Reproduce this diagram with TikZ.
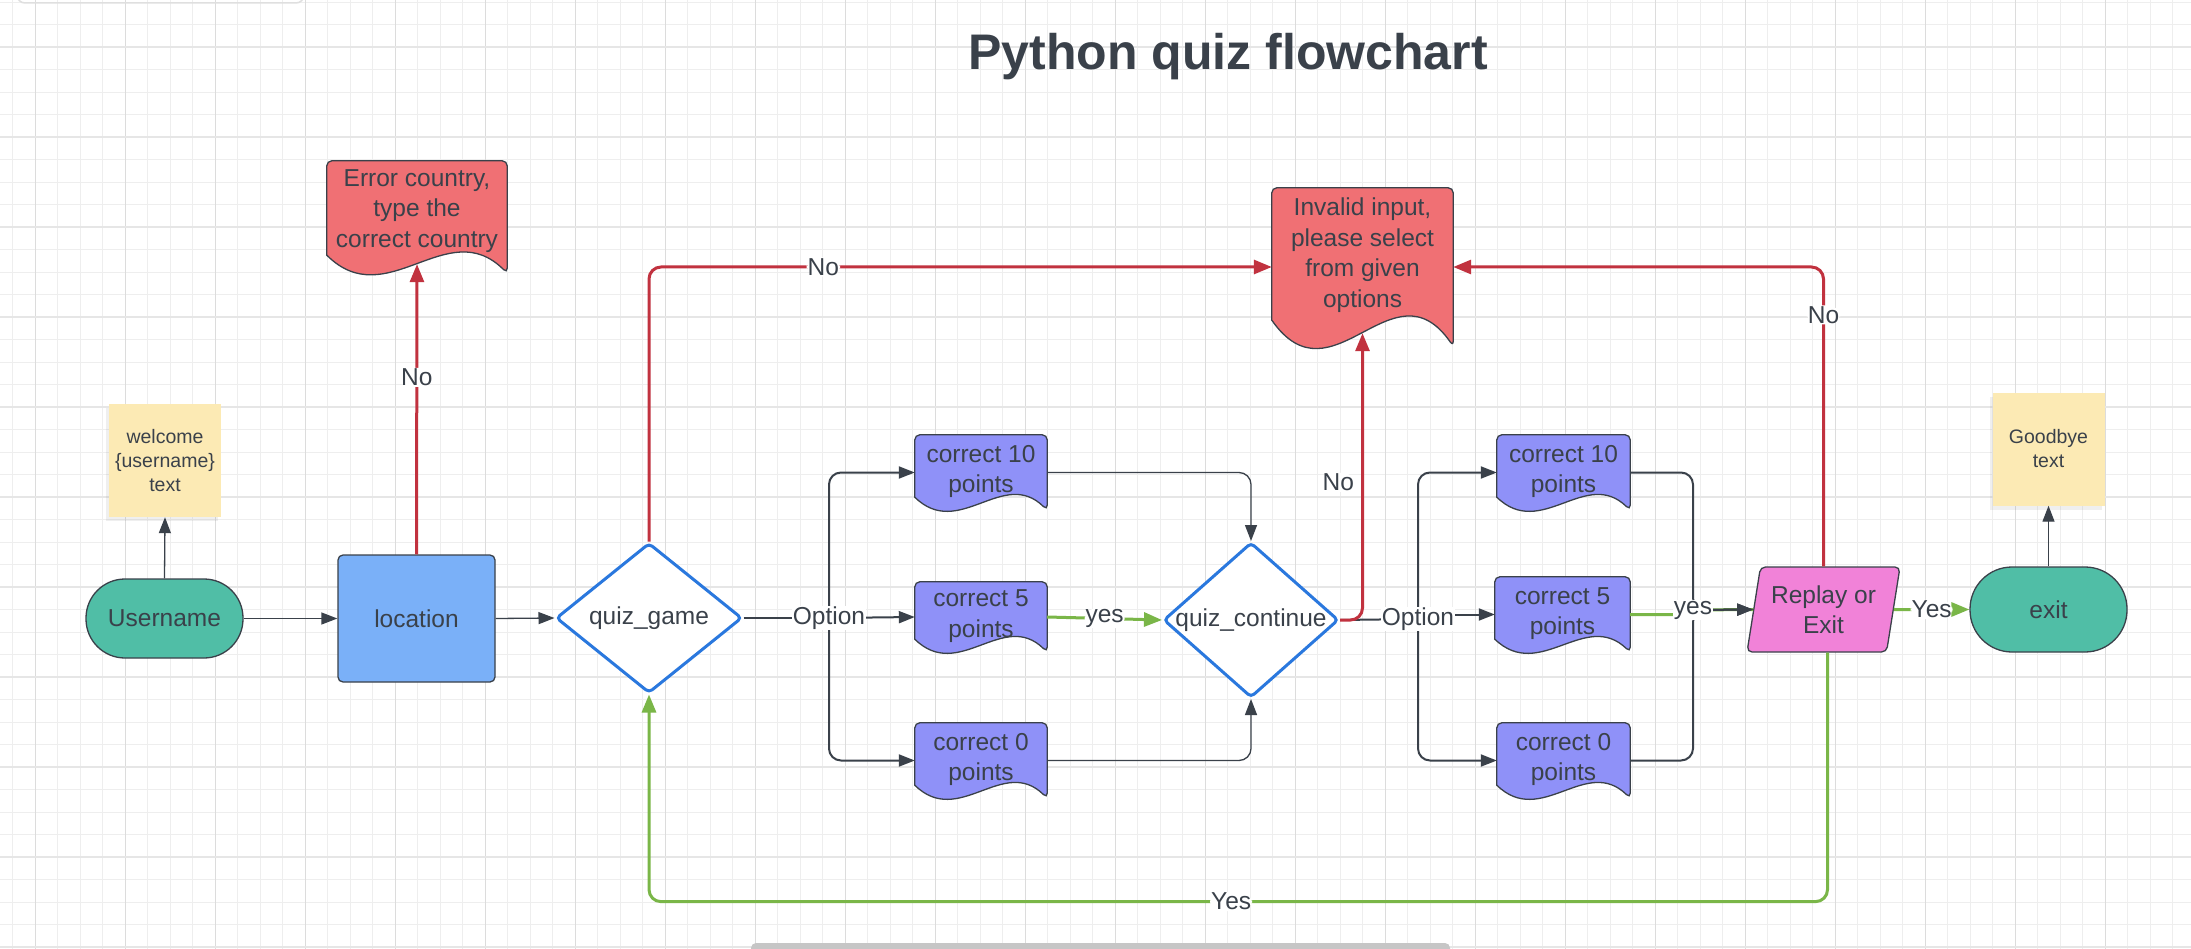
\documentclass[tikz,border=0pt]{standalone}
\usepackage{fontspec}
\setmainfont{Liberation Sans}
\usepackage{tikz}
\usetikzlibrary{arrows.meta, calc, backgrounds, shapes.geometric, shadows}

\definecolor{txtgrey}{HTML}{3A414A}
\definecolor{gridminor}{HTML}{EEEEEE}
\definecolor{gridmajorv}{HTML}{DCDCDC}
\definecolor{gridmajorh}{HTML}{E6E6E6}
\definecolor{tealfill}{HTML}{50BEA6}
\definecolor{bluefill}{HTML}{7AB0F8}
\definecolor{redfill}{HTML}{F07074}
\definecolor{purplefill}{HTML}{8F91F8}
\definecolor{pinkfill}{HTML}{F182D8}
\definecolor{notefill}{HTML}{FCEAB4}
\definecolor{noline}{HTML}{C1323F}
\definecolor{yesline}{HTML}{7AB648}
\definecolor{diamondblue}{HTML}{2A78DE}

% outline of a document shape (wavy bottom) round a named node
\newcommand{\DocOutline}[3]{%
	\draw[line width=1.3pt, draw=txtgrey, fill=#3] ($(#1.south west)+(0,-#2)$) [rounded corners=5pt] -- (#1.north west) -- (#1.north east) -- (#1.south east) [sharp corners] .. controls ($(#1.south west)!0.667!(#1.south east)+(0,-3.333*#2)$) and ($(#1.south west)!0.333!(#1.south east)+(0,2.333*#2)$) .. ($(#1.south west)+(0,-#2)$) -- cycle;%
}

\begin{document}
\begin{tikzpicture}[x=1pt, y=-1pt,
	font=\fontsize{24.5}{30.5}\selectfont,
	every node/.append style={text=txtgrey},
	>={Triangle[length=16pt, width=12pt]},
	thinline/.style={line width=1.3pt, draw=txtgrey, ->},
	optline/.style={line width=2pt, draw=txtgrey},
	noarrow/.style={line width=3pt, draw=noline, -{Triangle[length=18pt, width=14pt]}, rounded corners=12pt},
	yesarrow/.style={line width=3pt, draw=yesline, -{Triangle[length=18pt, width=14pt]}, rounded corners=12pt},
	lbl/.style={fill=white, inner sep=1pt},
	terminal/.style={draw=txtgrey, line width=1.3pt, fill=tealfill, minimum width=157pt, inner sep=0},
	process/.style={draw=txtgrey, line width=1.3pt, fill=bluefill, rounded corners=5pt, minimum width=157pt, minimum height=127pt},
	decision/.style={diamond, draw=diamondblue, line width=3pt, fill=white, rounded corners=4pt, inner sep=0},
	doc/.style={rectangle, draw=none, inner sep=0},
	note/.style={fill=notefill, minimum width=112pt, minimum height=113pt, align=center, font=\fontsize{19.5}{24}\selectfont, drop shadow={shadow xshift=-3pt, shadow yshift=-4pt, opacity=0.12}},
	inout/.style={trapezium, trapezium left angle=77, trapezium right angle=103, trapezium stretches=true, draw=txtgrey, line width=1.3pt, fill=pinkfill, rounded corners=5pt, minimum width=153pt, minimum height=85pt, inner sep=0, align=center}
]
\useasboundingbox (0,0) rectangle (2191,949);
\clip (0,0) rectangle (2191,949);

% Draw grid
\begin{scope}[on background layer]
\fill[white] (0,0) rectangle (2191,949);
\foreach \gx in {0,...,96} \draw[gridminor, line width=1pt] ({12.8+22.5*\gx},0) -- ++(0,949);
\foreach \gy in {0,...,42} \draw[gridminor, line width=1pt] (0,{2.3+22.5*\gy}) -- ++(2191,0);
\foreach \gx in {0,...,23} \draw[gridmajorv, line width=1.3pt] ({35.3+90*\gx},0) -- ++(0,949);
\foreach \gy in {0,...,10} \draw[gridmajorh, line width=2pt] (0,{47.3+90*\gy}) -- ++(2191,0);
\end{scope}
\draw[gray!25, line width=1.5pt, rounded corners=8pt] (17,-20) rectangle (304,3);
\fill[gray!45, rounded corners=5pt] (751,943) rectangle (1450,958);

% Title
\node[font=\fontsize{50}{60}\selectfont\bfseries, anchor=base] (title) at (1228,70) {Python quiz flowchart};

% Draw nodes
\node[terminal, minimum height=79pt, rounded corners=39pt] (username) at (164.5,618.5) {Username};
\node[note] (welcome) at (165,460.5) {welcome\\\{username\}\\text};
\node[process] (location) at (416.5,618.5) {location};
\node[doc, minimum width=180pt, minimum height=112pt, label={[align=center, yshift=6pt]center:Error country,\\type the\\correct country}] (errcountry) at (417,217) {};
\node[decision, minimum width=186pt, minimum height=150pt, label=center:quiz\_game] (quizgame) at (649,618) {};
\node[doc, minimum width=132pt, minimum height=75pt, label={[align=center, yshift=1pt]center:correct 10\\points}] (c10a) at (981,472.5) {};
\node[doc, minimum width=132pt, minimum height=70pt, label={[align=center, yshift=1pt]center:correct 5\\points}] (c5a) at (981,617) {};
\node[doc, minimum width=132pt, minimum height=75pt, label={[align=center, yshift=1pt]center:correct 0\\points}] (c0a) at (981,760.5) {};
\node[decision, minimum width=175pt, minimum height=155pt, label=center:quiz\_continue] (quizcont) at (1251,620) {};
\node[doc, minimum width=181pt, minimum height=158pt, label={[align=center, yshift=12pt]center:Invalid input,\\please select\\from given\\options}] (invalid) at (1362.5,267) {};
\node[doc, minimum width=133pt, minimum height=75pt, label={[align=center, yshift=1pt]center:correct 10\\points}] (c10b) at (1563.5,472.5) {};
\node[doc, minimum width=135pt, minimum height=75pt, label={[align=center, yshift=1pt]center:correct 5\\points}] (c5b) at (1562.5,614.5) {};
\node[doc, minimum width=133pt, minimum height=75pt, label={[align=center, yshift=1pt]center:correct 0\\points}] (c0b) at (1563.5,760.5) {};
\node[inout] (replay) at (1823.5,609.5) {Replay or\\Exit};
\node[terminal, minimum height=85pt, rounded corners=42pt] (exit) at (2048.5,609.5) {exit};
\node[note] (goodbye) at (2048.5,449) {Goodbye\\text};

% Draw document shapes
\begin{scope}[on background layer]
\DocOutline{errcountry}{18}{redfill}
\DocOutline{invalid}{26}{redfill}
\DocOutline{c10a}{13}{purplefill}
\DocOutline{c5a}{13}{purplefill}
\DocOutline{c0a}{13}{purplefill}
\DocOutline{c10b}{13}{purplefill}
\DocOutline{c5b}{13}{purplefill}
\DocOutline{c0b}{13}{purplefill}
\end{scope}

\coordinate (errtip) at ($(errcountry.south)+(0,-9)$);
\coordinate (invtip) at ($(invalid.south)+(0,-13)$);
\coordinate (opta) at (829,618);
\coordinate (optb) at (1418,619);
\coordinate (joinb) at (1693,610);

% Draw plain connectors
\draw[thinline] (username.east) -- (location.west);
\draw[thinline] (username.north) -- (welcome.south);
\draw[thinline] (location.east) -- (quizgame.west);
\draw[thinline] (exit.north) -- (goodbye.south);

% First option fork
\draw[optline] (quizgame.east) -- (opta);
\draw[optline, ->, rounded corners=12pt] (opta) |- (c10a.west);
\draw[optline, ->, rounded corners=12pt] (opta) |- (c0a.west);
\draw[optline, ->] (opta) -- (c5a.west);
\node[lbl] (optlbla) at (opta) {Option};
\draw[thinline, rounded corners=12pt] (c10a.east) -| (quizcont.north);
\draw[thinline, rounded corners=12pt] (c0a.east) -| (quizcont.south);
\draw[yesarrow] (c5a.east) -- (quizcont.west) node[lbl, pos=0.5] (yeslbla) {yes};

% Second option fork
\draw[optline] (quizcont.east) -- (optb);
\draw[optline, ->, rounded corners=12pt] (optb) |- (c10b.west);
\draw[optline, ->, rounded corners=12pt] (optb) |- (c0b.west);
\draw[optline, ->] (optb |- c5b.west) -- (c5b.west);
\node[lbl] (optlblb) at (optb) {Option};
\draw[yesline, line width=3pt] (c5b.east) -- (c5b.east -| joinb) -- (joinb) -- (replay.west);
\draw[optline, ->, rounded corners=12pt] (c10b.east) -| (joinb) -- (replay.west);
\draw[optline, ->, rounded corners=12pt] (c0b.east) -| (joinb) -- (replay.west);
\node[lbl] (yeslblb) at (joinb) {yes};
\draw[yesarrow] (replay.east) -- (exit.west) node[lbl, pos=0.5] (yeslblc) {Yes};

% Draw No lines
\draw[noarrow] (location.north) -- (errtip) node[lbl, pos=0.61] (nolbla) {No};
\draw[noarrow] (quizgame.north) |- (invalid.west) node[lbl, pos=0.64] (nolblb) {No};
\draw[noarrow] (quizcont.east) -| (invtip) node[lbl, pos=0.74, left=6pt] (nolblc) {No};
\draw[noarrow] (replay.center |- replay.north) |- (invalid.east) node[lbl, pos=0.42] (nolbld) {No};

% Back to the quiz
\draw[yesarrow] ([xshift=4pt]replay.center |- replay.south) -- ++(0,249) -| (quizgame.south) node[lbl, pos=0.253] (yeslbld) {Yes};
\end{tikzpicture}
\end{document}
